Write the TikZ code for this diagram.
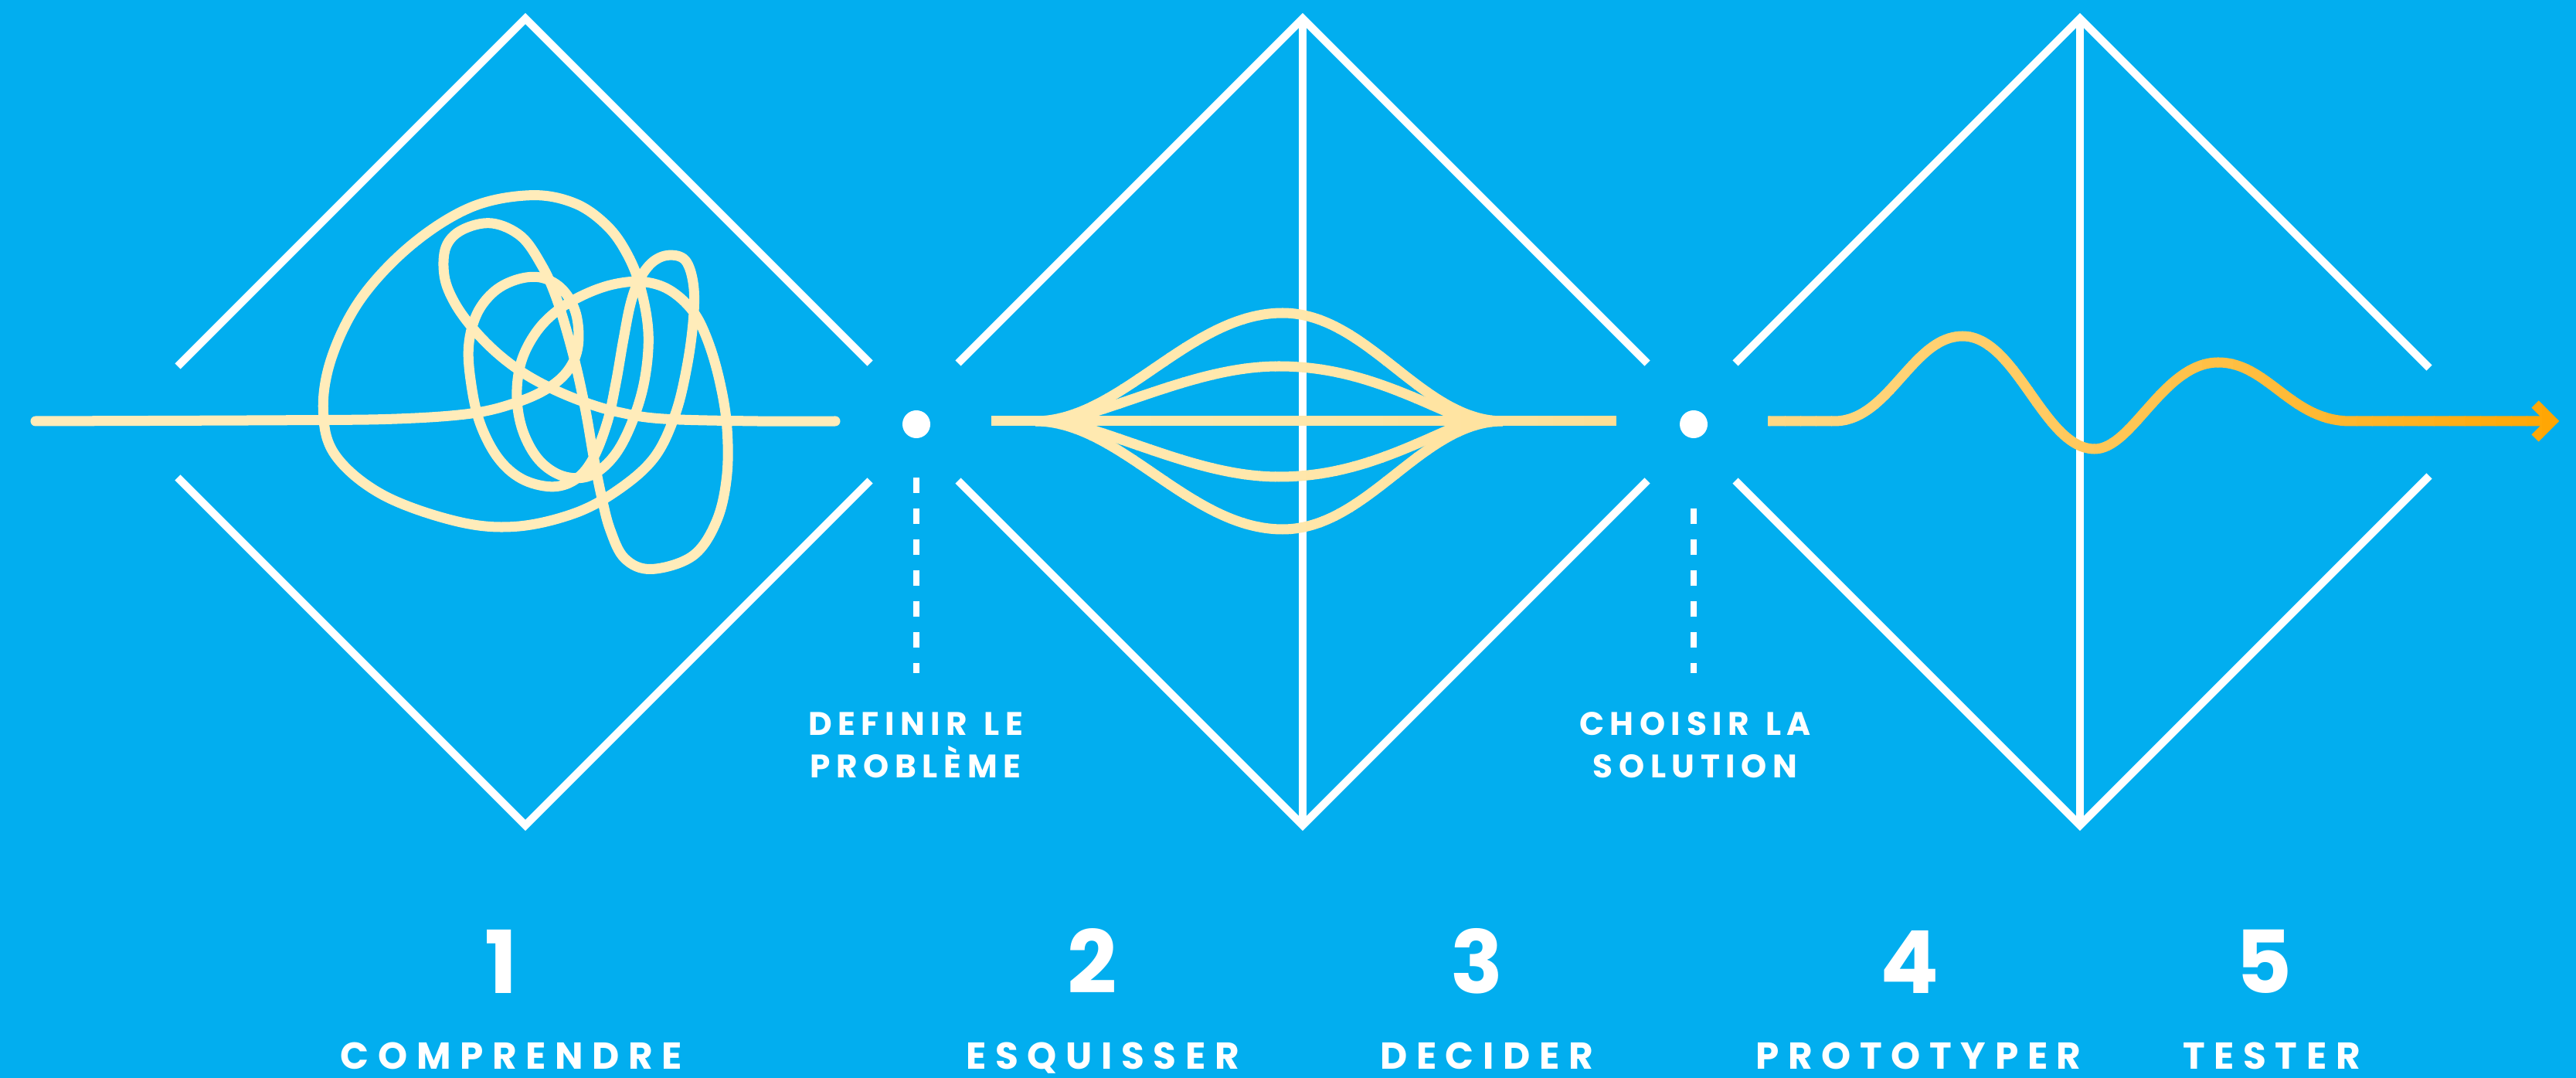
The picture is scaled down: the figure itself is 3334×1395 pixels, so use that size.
\documentclass[tikz,border=0pt]{standalone}
\usepackage{fontspec}
\newfontfamily\midfont{Poppins}[LetterSpace=18]
\newfontfamily\botfont{Poppins}[LetterSpace=24]
\newfontfamily\numfont{Poppins}
\definecolor{bg}{RGB}{2,174,239}
\definecolor{scrib}{RGB}{255,236,186}
\definecolor{creamstart}{RGB}{255,233,176}
\definecolor{orangeend}{RGB}{255,165,0}
\def\mygradpaths{%
  \draw[gradline] (1283,545) -- (2092,545);
  \draw[gradline] (1340,545) .. controls (1450,545) and (1540,405) .. (1660,405) .. controls (1770,405) and (1840,545) .. (1945,545);
  \draw[gradline] (1340,545) .. controls (1450,545) and (1540,685) .. (1660,685) .. controls (1770,685) and (1840,545) .. (1945,545);
  \draw[gradline] (1375,545) .. controls (1470,520) and (1560,474) .. (1655,474) .. controls (1750,474) and (1820,510) .. (1900,545);
  \draw[gradline] (1375,545) .. controls (1470,570) and (1560,617) .. (1655,617) .. controls (1750,617) and (1820,580) .. (1900,545);
  \draw[gradline] (2288,545) -- (2374,545) .. controls (2445,545) and (2475,435) .. (2540,435) .. controls (2610,435) and (2645,581) .. (2711,581) .. controls (2760,581) and (2800,469) .. (2871,469) .. controls (2935,469) and (2965,545) .. (3042,545) -- (3303,545);
  \draw[gradline, line join=miter] (3281,523) -- (3303,545) -- (3281,567);
}
\begin{document}
\begin{tikzpicture}[x=0.01cm,y=-0.01cm,
  diamondline/.style={white, line width=0.1cm, line join=miter, line cap=butt},
  scribble/.style={scrib, line width=0.13cm, line cap=round, line join=round},
  gradline/.style={line width=0.13cm, line join=round},
  dashv/.style={white, line width=0.08cm, dash pattern=on 0.2cm off 0.2cm},
  dotnode/.style={circle, fill=white, minimum size=0.36cm, inner sep=0pt},
  midlab/.style={text=white, font=\midfont\bfseries\fontsize{12}{14}\selectfont, anchor=base, inner sep=0pt, text depth=0pt},
  botlab/.style={text=white, font=\botfont\bfseries\fontsize{13.8}{16}\selectfont, anchor=base, inner sep=0pt, text depth=0pt},
  numlab/.style={text=white, font=\numfont\bfseries\fontsize{32}{36}\selectfont, anchor=base, inner sep=0pt, text depth=0pt}]
\useasboundingbox (0,0) rectangle (3334,1395);
\fill[bg] (0,0) rectangle (3334,1395);

% diamonds
\draw[diamondline] (230,474) -- (680,24) -- (1126,470);
\draw[diamondline] (230,618) -- (680,1068) -- (1126,622);
\draw[diamondline] (1240,470) -- (1686,24) -- (2132,470);
\draw[diamondline] (1240,622) -- (1686,1068) -- (2132,622);
\draw[diamondline] (1686,24) -- (1686,1068);
\draw[diamondline] (2246,470) -- (2692,24) -- (3144,476);
\draw[diamondline] (2246,622) -- (2692,1068) -- (3144,616);
\draw[diamondline] (2692,24) -- (2692,1068);

% scribble
\draw[scribble] plot[smooth, tension=0.6] coordinates {
(46,545) (380,543.7) (513.9,542.0) (609.6,535.1) (667.0,521.3) (709.1,502.4) (735.9,478.3)
(748.2,447.3) (745.5,406.0) (728.3,375.0) (701.5,359.5) (670.9,361.2) (640.2,376.7)
(617.3,406.0) (606.6,447.3) (609.6,495.5) (621.1,547.1) (644.1,591.9) (674.7,619.4)
(713.0,629.8) (743.6,621.2) (766.5,595.3) (785.7,547.1) (797.1,495.5) (806.7,440.4)
(816.3,392.2) (827.8,361.2) (845.0,338.8) (866.0,330.2) (887.1,337.1) (897.4,368.1)
(897.4,412.8) (889.0,474.8) (873.7,536.8) (846.9,591.9) (801.0,633.2) (743.6,664.2)
(667.0,681.4) (590.5,674.5) (494.8,640.1) (433.6,588.5) (418.3,529.9) (429.8,461.0)
(468.0,385.3) (533.1,316.4) (609.6,268.2) (686.2,252.7) (743.6,263.0) (785.7,292.3)
(812.5,330.2) (829.7,375.0) (839.2,433.5) (833.5,495.5) (816.3,550.6) (793.3,591.9)
(762.7,616.0) (728.3,616.0) (697.6,595.3) (676.6,557.5) (668.9,512.7) (674.7,467.9)
(693.8,430.1) (720.6,402.5) (755.0,381.8) (793.3,368.1) (831.6,364.6) (866.0,375.0)
(896.6,402.5) (915.8,440.4) (931.1,492.0) (940.7,550.6) (940.7,616.0) (927.3,674.5)
(896.6,719.3) (843.1,736.5) (808.6,722.7) (789.5,684.9) (778.0,640.1) (768.4,591.9)
(758.9,536.8) (747.4,481.7) (734.0,430.1) (718.7,381.8) (701.5,344.0) (674.7,306.1)
(636.4,288.9) (598.1,297.5) (577.1,319.9) (575.2,357.7) (588.6,392.2) (613.4,426.6)
(644.1,457.6) (678.5,483.4) (716.8,504.1) (758.9,521.3) (801.0,533.4) (858.4,542.0)
(980.1,545.0) (1081,545)};

% gradient lens and wave, drawn in vertical strips
\foreach \i in {0,...,102} {
  \pgfmathsetmacro\xa{1270+20*\i}
  \pgfmathsetmacro\xb{\xa+21}
  \pgfmathsetmacro\tt{max(0,min(1,(\xa+10-1283)/2029))}
  \pgfmathtruncatemacro\pp{100*\tt*\tt}
  \begin{scope}
    \clip (\xa,0) rectangle (\xb,1395);
    \colorlet{stripcol}{orangeend!\pp!creamstart}
    \begin{scope}[draw=stripcol]
      \mygradpaths
    \end{scope}
  \end{scope}
}

% dots and dashed lines
\node[dotnode] (dot1) at (1186,549) {};
\node[dotnode] (dot2) at (2192,549) {};
\coordinate (d1a) at (1186,618);
\coordinate (d1b) at (1186,871);
\coordinate (d2a) at (2192,658);
\coordinate (d2b) at (2192,871);
\draw[dashv] (d1a) -- (d1b);
\draw[dashv] (d2a) -- (d2b);

% middle labels
\node[midlab] (def1) at (1185,951) {DEFINIR\kern0.5em LE};
\node[midlab] (def2) at (1185,1006) {PROBLÈME};
\node[midlab] (cho1) at (2194,951) {CHOISIR\kern0.5em LA};
\node[midlab] (cho2) at (2194,1006) {SOLUTION};

% numbers
\node[numlab] (n1) at (649,1285) {1};
\node[numlab] (n2) at (1414,1285) {2};
\node[numlab] (n3) at (1912,1285) {3};
\node[numlab] (n4) at (2472,1285) {4};
\node[numlab] (n5) at (2930,1285) {5};

% bottom labels
\node[botlab] (l1) at (662,1383) {COMPRENDRE};
\node[botlab] (l2) at (1427,1383) {ESQUISSER};
\node[botlab] (l3) at (1924,1383) {DECIDER};
\node[botlab] (l4) at (2483,1383) {PROTOTYPER};
\node[botlab] (l5) at (2940,1383) {TESTER};
\end{tikzpicture}
\end{document}
